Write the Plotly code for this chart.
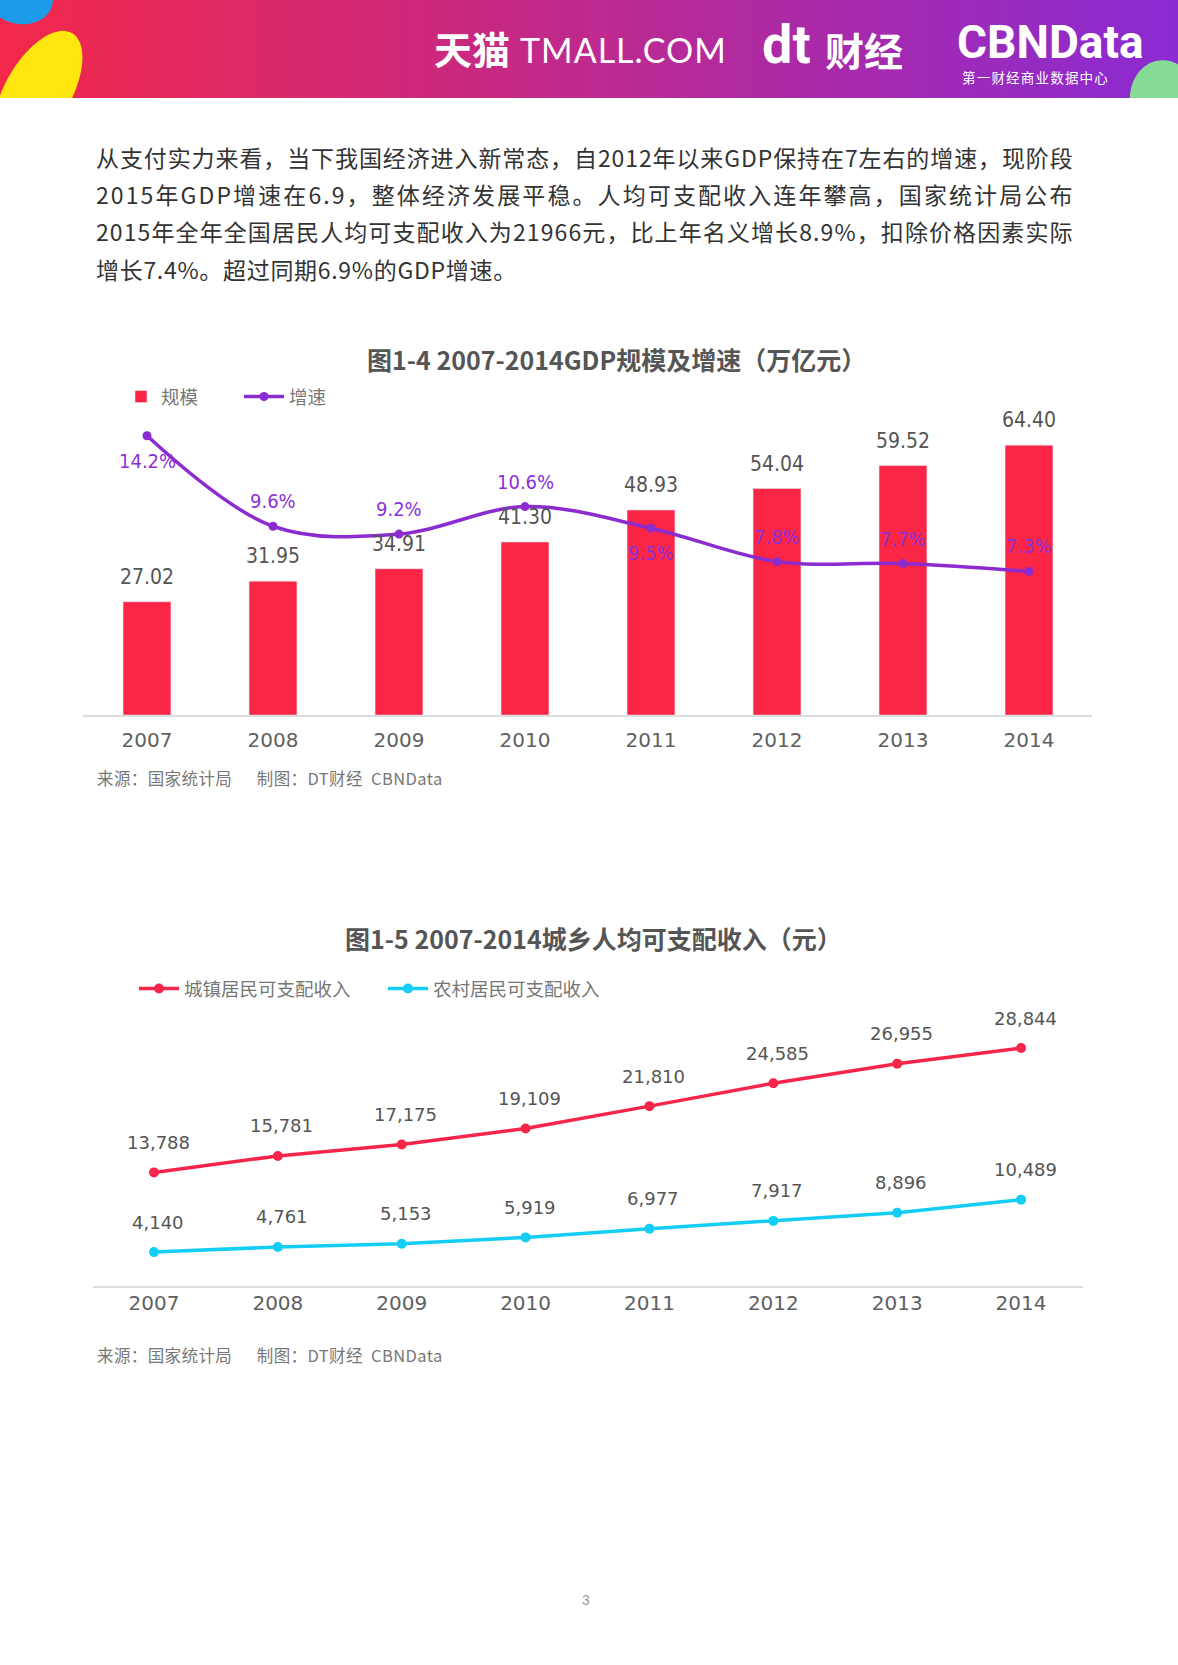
import math
import plotly.graph_objects as go

# ---------------- data ----------------
years = ["2007", "2008", "2009", "2010", "2011", "2012", "2013", "2014"]
gdp_scale = [27.02, 31.95, 34.91, 41.30, 48.93, 54.04, 59.52, 64.40]   # 万亿元
gdp_growth = [14.2, 9.6, 9.2, 10.6, 9.5, 7.8, 7.7, 7.3]               # %
urban_income = [13788, 15781, 17175, 19109, 21810, 24585, 26955, 28844]
rural_income = [4140, 4761, 5153, 5919, 6977, 7917, 8896, 10489]

title1 = "图1-4 2007-2014GDP规模及增速（万亿元）"
title2 = "图1-5 2007-2014城乡人均可支配收入（元）"
source_text = "来源：国家统计局\u00a0\u00a0\u00a0\u00a0\u00a0\u00a0制图：DT财经\u00a0\u00a0CBNData"
paragraph = [
    "从支付实力来看，当下我国经济进入新常态，自2012年以来GDP保持在7左右的增速，现阶段",
    "2015年GDP增速在6.9，整体经济发展平稳。人均可支配收入连年攀高，国家统计局公布",
    "2015年全年全国居民人均可支配收入为21966元，比上年名义增长8.9%，扣除价格因素实际",
    "增长7.4%。超过同期6.9%的GDP增速。",
]

# ---------------- page helpers ----------------
W, H = 1178, 1665
def px(x): return x / W
def py(y): return 1 - y / H

CJK = "Noto Sans CJK SC"
NUM = "Liberation Sans Narrow, DejaVu Sans Condensed, sans-serif"
RED = "#FB2645"
PURPLE = "#8B2BD0"
CYAN = "#14CDF4"

fig = go.Figure()

# ---------------- chart 1 ----------------
fig.add_trace(go.Bar(
    x=years, y=gdp_scale, name="规模", marker_color=RED, width=0.38,
    xaxis="x", yaxis="y", legend="legend", hoverinfo="skip"))
fig.add_trace(go.Scatter(
    x=years, y=gdp_growth, name="增速", mode="lines+markers",
    line=dict(color=PURPLE, width=3.5, shape="spline", smoothing=1.0),
    marker=dict(color=PURPLE, size=9),
    xaxis="x", yaxis="y2", legend="legend2", hoverinfo="skip"))

# ---------------- chart 2 ----------------
fig.add_trace(go.Scatter(
    x=years, y=urban_income, name="城镇居民可支配收入", mode="lines+markers",
    line=dict(color="#F7254A", width=3.5), marker=dict(color="#F7254A", size=10),
    xaxis="x2", yaxis="y3", legend="legend3", hoverinfo="skip"))
fig.add_trace(go.Scatter(
    x=years, y=rural_income, name="农村居民可支配收入", mode="lines+markers",
    line=dict(color=CYAN, width=3.5), marker=dict(color=CYAN, size=10),
    xaxis="x2", yaxis="y3", legend="legend4", hoverinfo="skip"))

ann = []
# bar value labels (category index positions on the category axis)
for i, v in enumerate(gdp_scale):
    ann.append(dict(x=i, y=v, xref="x", yref="y", text=f"{v:.2f}", showarrow=False,
                    yshift=25, yanchor="middle",
                    font=dict(family=NUM, size=21, color="#555555")))
# growth labels (above except first and fifth)
side = [-1, 1, 1, 1, -1, 1, 1, 1]
for i, v in enumerate(gdp_growth):
    ann.append(dict(x=i, y=v, xref="x", yref="y2", text=f"{v}%", showarrow=False,
                    yshift=25 * side[i], yanchor="middle",
                    font=dict(family=NUM, size=20, color="#8B30D8")))
# income labels
for series in (urban_income, rural_income):
    for i, v in enumerate(series):
        ann.append(dict(x=i, y=v, xref="x2", yref="y3", text=f"{v:,}", showarrow=False,
                        yshift=30, xshift=4, yanchor="middle",
                        font=dict(family="DejaVu Sans, sans-serif", size=18, color="#555555")))

# titles, sources, paragraph, page number
ann.append(dict(x=px(616), y=py(359), xref="paper", yref="paper", text=f"<b>{title1}</b>",
                showarrow=False, xanchor="center", yanchor="middle",
                font=dict(family=CJK, size=25, color="#555555")))
ann.append(dict(x=px(593), y=py(938), xref="paper", yref="paper", text=f"<b>{title2}</b>",
                showarrow=False, xanchor="center", yanchor="middle",
                font=dict(family=CJK, size=25, color="#555555")))
for yy in (778, 1355):
    ann.append(dict(x=px(95), y=py(yy), xref="paper", yref="paper",
                    text=f'<span style="letter-spacing:0.4px">{source_text}</span>',
                    showarrow=False, xanchor="left", yanchor="middle",
                    font=dict(family=CJK, size=16.5, color="#777777")))
line_y = [157, 194.5, 231.5, 268.5]
spacing = [0.9, 2.1, 1.1, 0.7]
for t, yy, ls in zip(paragraph, line_y, spacing):
    ann.append(dict(x=px(94), y=py(yy), xref="paper", yref="paper",
                    text=f'<span style="letter-spacing:{ls}px">{t}</span>',
                    showarrow=False, xanchor="left", yanchor="middle", align="left",
                    font=dict(family=CJK, size=23, color="#333333")))
ann.append(dict(x=px(586), y=py(1610), xref="paper", yref="paper", text="3", showarrow=False,
                font=dict(family="Liberation Sans", size=14, color="#999999")))

# ---------------- header ----------------
shapes = []
HB = 98
c0 = (242, 40, 74)
c1 = (138, 43, 210)
N = 118
for k in range(N):
    t = k / (N - 1)
    c = tuple(round(a + (b - a) * t) for a, b in zip(c0, c1))
    shapes.append(dict(type="rect", xref="paper", yref="paper",
                       x0=px(k * W / N), x1=px((k + 1) * W / N + 1), y0=py(HB), y1=py(0),
                       fillcolor=f"rgb{c}", line=dict(width=0), layer="below"))

def clip_poly(pts, ymax, ymin):
    def clip(points, inside, inter):
        out = []
        for i in range(len(points)):
            cur, prev = points[i], points[i - 1]
            if inside(cur):
                if not inside(prev):
                    out.append(inter(prev, cur))
                out.append(cur)
            elif inside(prev):
                out.append(inter(prev, cur))
        return out
    def inter_y(yl):
        def f(p, q):
            t = (yl - p[1]) / (q[1] - p[1])
            return (p[0] + t * (q[0] - p[0]), yl)
        return f
    pts = clip(pts, lambda p: p[1] <= ymax, inter_y(ymax))
    pts = clip(pts, lambda p: p[1] >= ymin, inter_y(ymin))
    return pts

def ellipse_path(cx, cy, a, b, rot_deg, ymax=HB, ymin=0):
    r = math.radians(rot_deg)
    pts = []
    for k in range(72):
        th = 2 * math.pi * k / 72
        ex, ey = a * math.cos(th), b * math.sin(th)
        pts.append((cx + ex * math.cos(r) - ey * math.sin(r), cy + ex * math.sin(r) + ey * math.cos(r)))
    pts = clip_poly(pts, ymax, ymin)
    return "M" + " L".join(f"{px(x):.5f},{py(y):.5f}" for x, y in pts) + " Z"

shapes.append(dict(type="path", xref="paper", yref="paper", path=ellipse_path(38, 92, 33, 68, 30),
                   fillcolor="#FFE60F", line=dict(width=0), layer="below"))
shapes.append(dict(type="path", xref="paper", yref="paper", path=ellipse_path(20, -2, 33, 26, 10),
                   fillcolor="#1C9CE8", line=dict(width=0), layer="below"))
shapes.append(dict(type="path", xref="paper", yref="paper", path=ellipse_path(1165, 102, 35, 42, -10),
                   fillcolor="#86DC94", line=dict(width=0), layer="below"))

ann += [
    dict(x=px(432), y=py(47), xref="paper", yref="paper", text="<b>天猫</b>", showarrow=False,
         xanchor="left", yanchor="middle", font=dict(family=CJK, size=38, color="white")),
    dict(x=px(518), y=py(50), xref="paper", yref="paper",
         text='<span style="letter-spacing:1px">TMALL.COM</span>', showarrow=False,
         xanchor="left", yanchor="middle", font=dict(family="Lato, sans-serif", size=34, color="white")),
    dict(x=px(760), y=py(44), xref="paper", yref="paper", text="<b>dt</b>", showarrow=False,
         xanchor="left", yanchor="middle", font=dict(family="Roboto", size=54, color="white")),
    dict(x=px(823), y=py(49), xref="paper", yref="paper", text="<b>财经</b>", showarrow=False,
         xanchor="left", yanchor="middle", font=dict(family=CJK, size=39, color="white")),
    dict(x=px(955), y=py(42), xref="paper", yref="paper", text="<b>CBNData</b>", showarrow=False,
         xanchor="left", yanchor="middle", font=dict(family="Roboto", size=46, color="white")),
    dict(x=px(960), y=py(77), xref="paper", yref="paper",
         text='<span style="letter-spacing:1.2px">第一财经商业数据中心</span>', showarrow=False,
         xanchor="left", yanchor="middle", font=dict(family=CJK, size=13.5, color="white")),
]

axis_common = dict(showgrid=False, zeroline=False, fixedrange=True)
legend_font = dict(family=CJK, size=18.5, color="#777777")
tick_font = dict(family="DejaVu Sans, sans-serif", size=20, color="#606060")

fig.update_layout(
    width=W, height=H, margin=dict(l=0, r=0, t=0, b=0),
    paper_bgcolor="white", plot_bgcolor="rgba(0,0,0,0)",
    showlegend=True, bargap=0,
    xaxis=dict(domain=[px(83), px(1092)], anchor="y", type="category", range=[-0.508, 7.5],
               showline=True, linecolor="#DDDDDD", linewidth=2, ticks="",
               tickfont=tick_font, ticklabelstandoff=6, **axis_common),
    yaxis=dict(domain=[py(715), py(400)], range=[0, 75.18], visible=False, **axis_common),
    yaxis2=dict(overlaying="y", range=[0, 16.02], visible=False, anchor="x", **axis_common),
    xaxis2=dict(domain=[px(93), px(1083)], anchor="y3", type="category", range=[-0.4925, 7.5],
                showline=True, linecolor="#DDDDDD", linewidth=2, ticks="",
                tickfont=tick_font, ticklabelstandoff=-2, **axis_common),
    yaxis3=dict(domain=[py(1286.3), py(1000)], range=[0, 34660], visible=False, **axis_common),
    legend=dict(x=px(121), y=py(397), xanchor="left", yanchor="middle", orientation="h",
                font=legend_font, bgcolor="rgba(0,0,0,0)"),
    legend2=dict(x=px(239), y=py(397), xanchor="left", yanchor="middle", orientation="h",
                 itemwidth=40, font=legend_font, bgcolor="rgba(0,0,0,0)"),
    legend3=dict(x=px(134), y=py(989), xanchor="left", yanchor="middle", orientation="h",
                 itemwidth=40, font=legend_font, bgcolor="rgba(0,0,0,0)"),
    legend4=dict(x=px(383), y=py(989), xanchor="left", yanchor="middle", orientation="h",
                 itemwidth=40, font=legend_font, bgcolor="rgba(0,0,0,0)"),
    annotations=ann, shapes=shapes,
)

fig.write_html("out.html", config={"displayModeBar": False, "staticPlot": True},
               post_script="document.body.style.margin='0';document.body.style.overflow='hidden';")
